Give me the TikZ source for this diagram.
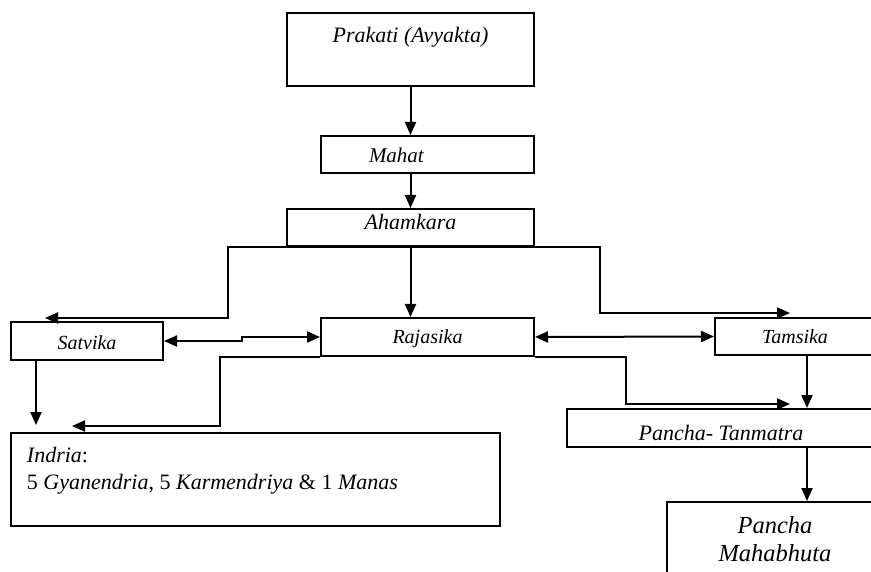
\documentclass[tikz,border=0pt]{standalone}
\usepackage{fontspec}
\setmainfont{Liberation Serif}
\usetikzlibrary{arrows.meta}

\begin{document}
\begin{tikzpicture}[x=1pt, y=-1pt, line width=2pt,
    box/.style={draw, inner sep=0pt},
    txt/.style={inner sep=0pt, font=\fontsize{22}{27}\selectfont\itshape},
    smalltxt/.style={txt, font=\fontsize{20}{24}\selectfont\itshape},
    link/.style={-{Triangle[length=13pt,width=11pt]}},
    twoway/.style={{Triangle[length=13pt,width=11pt]}-{Triangle[length=13pt,width=11pt]}}]

    \useasboundingbox (0,0) rectangle (871,572);
    \clip (0,0) rectangle (871,572);

    % boxes
    \node[box, minimum width=247pt, minimum height=73pt] (prakati) at (410.5,49.5) {};
    \node[box, minimum width=213pt, minimum height=37pt] (mahat) at (427.5,154.5) {};
    \node[box, minimum width=247pt, minimum height=37pt] (ahamkara) at (410.5,227.5) {};
    \node[box, minimum width=152pt, minimum height=38pt] (satvika) at (87,341) {};
    \node[box, minimum width=213pt, minimum height=38pt] (rajasika) at (427.5,337) {};
    \node[box, minimum width=160pt, minimum height=37pt] (tamsika) at (795,336.5) {};
    \node[box, minimum width=308pt, minimum height=38pt] (tanmatra) at (721,428) {};
    \node[box, minimum width=489pt, minimum height=93pt] (indria) at (255.5,479.5) {};
    \node[box, minimum width=218pt, minimum height=98pt] (mahabhuta) at (776,551) {};

    % texts
    \node[txt, anchor=base] (prakatitext) at ([yshift=6.5pt]prakati.center) {Prakati (Avyakta)};
    \node[txt, font=\fontsize{21}{25}\selectfont\itshape, anchor=base west] (mahattext)
        at ([xshift=-59.5pt, yshift=-8.5pt]mahat.center) {Mahat};
    \node[txt, anchor=base] (ahamkaratext) at ([yshift=-2.5pt]ahamkara.center) {Ahamkara};
    \node[smalltxt, anchor=base] (satvikatext) at ([yshift=-9pt]satvika.center) {Satvika};
    \node[smalltxt, anchor=base] (rajasikatext) at ([yshift=-7pt]rajasika.center) {Rajasika};
    \node[smalltxt, anchor=base] (tamsikatext) at ([yshift=-7.5pt]tamsika.center) {Tamsika};
    \node[txt, anchor=base] (tanmatratext) at ([yshift=-12pt]tanmatra.center) {Pancha- Tanmatra};
    \node[txt, align=left, anchor=north west] (indriatext) at ([xshift=16pt, yshift=-14pt]indria.north west)
        {Indria\upshape:\\
        \upshape 5 \itshape Gyanendria\upshape, 5 \itshape Karmendriya \upshape\& 1 \itshape Manas};
    \node[txt, font=\fontsize{24.5}{28}\selectfont\itshape, align=center, anchor=north] (mahabhutatext)
        at ([xshift=-1pt, yshift=-14pt]mahabhuta.north) {Pancha\\Mahabhuta};

    % turning points and free ends
    \coordinate (col) at (807,0);
    \coordinate (satvikaend) at (45,318);
    \coordinate (tamsikaend) at (790,313);
    \coordinate (indriaend) at (72,426);
    \coordinate (satvikadown) at (36,425);
    \coordinate (tanmatraend) at (790,404);

    \draw[link] (prakati.south) -- (prakati.south |- mahat.north);
    \draw[link] (mahat.south -| ahamkara.south) -- (ahamkara.north);
    \draw[link] (ahamkara.south) -- (ahamkara.south |- rajasika.north);
    \draw[link] (ahamkara.south) -| (228,318) -- (satvikaend);
    \draw[link] (ahamkara.south) -| (600,313) -- (tamsikaend);

    \draw[twoway] (satvika.east) -- (242,341) |- (rajasika.west);
    \draw[twoway] (rajasika.east) -- (tamsika.west);

    \draw[link] (satvika.south -| satvikadown) -- (satvikadown);
    \draw[link] (rajasika.south west) -| (220,426) -- (indriaend);
    \draw[link] (rajasika.south east) -| (626,404) -- (tanmatraend);
    \draw[link] (tamsika.south -| col) -- (tanmatra.north -| col);
    \draw[link] (tanmatra.south -| col) -- (mahabhuta.north -| col);
\end{tikzpicture}
\end{document}
